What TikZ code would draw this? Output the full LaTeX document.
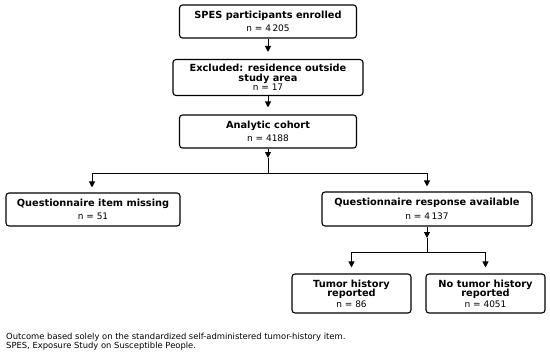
\documentclass[tikz,border=0pt]{standalone}
\usepackage{fontspec}
\setmainfont{DejaVu Sans}
\usetikzlibrary{arrows.meta}
\begin{document}
\begin{tikzpicture}[x=1pt,y=1pt,
  box/.style={draw, line width=1.1pt, rounded corners=3pt, align=center, inner sep=0pt, font=\fontsize{9.8}{9.6}\selectfont},
  arr/.style={line width=1pt, -{Triangle[length=6pt,width=6pt]}},
  ln/.style={line width=1pt}]
\useasboundingbox (0,0) rectangle (550,-356);
\newcommand{\ttl}[1]{\textbf{#1}}
\newcommand{\cnt}[1]{{\fontsize{9}{10}\selectfont #1}}
\node[box, minimum width=177pt, minimum height=33pt] (b1) at (268,-21.5) {\ttl{SPES participants enrolled}\\[4pt]\cnt{n = 4\,205}};
\node[box, minimum width=190pt, minimum height=36pt] (b2) at (268,-77.5) {\ttl{Excluded: residence outside}\\\ttl{study area}\\\cnt{n = 17}};
\node[box, minimum width=177pt, minimum height=33pt] (b3) at (268,-131.5) {\ttl{Analytic cohort}\\[4pt]\cnt{n = 4188}};
\node[box, minimum width=174pt, minimum height=33pt] (b4) at (93,-209.5) {\ttl{Questionnaire item missing}\\[4pt]\cnt{n = 51}};
\node[box, minimum width=210pt, minimum height=34pt] (b5) at (427,-209) {\ttl{Questionnaire response available}\\[4pt]\cnt{n = 4\,137}};
\node[box, minimum width=119pt, minimum height=39pt] (b6) at (351.5,-293.5) {\ttl{Tumor history}\\\ttl{reported}\\[1pt]\cnt{n = 86}};
\node[box, minimum width=119pt, minimum height=39pt] (b7) at (485.5,-293.5) {\ttl{No tumor history}\\\ttl{reported}\\[1pt]\cnt{n = 4051}};
\coordinate (j1) at (268,-158);
\coordinate (h1) at (268,-173);
\coordinate (hl) at (92,-173);
\coordinate (hr) at (427,-173);
\coordinate (j2) at (427,-238);
\coordinate (h2) at (427,-252);
\coordinate (gl) at (351.5,-252);
\coordinate (gr) at (485.5,-252);
\draw[arr, shorten >=7pt] (b1.south) -- (b2.north);
\draw[arr, shorten >=7pt] (b2.south) -- (b3.north);
\draw[arr] (b3.south) -- (j1);
\draw[ln] (j1) -- (h1);
\draw[ln] (hl) -- (hr);
\draw[arr, shorten >=5pt] (hl) -- (b4.north -| hl);
\draw[arr, shorten >=5pt] (hr) -- (b5.north);
\draw[arr] (b5.south) -- (j2);
\draw[ln] (j2) -- (h2);
\draw[ln] (gl) -- (gr);
\draw[arr, shorten >=6pt] (gl) -- (b6.north);
\draw[arr, shorten >=6pt] (gr) -- (b7.north);
\node[anchor=north west, align=left, inner sep=0pt, font=\fontsize{8.4}{9.4}\selectfont] (fn) at (6,-333) {Outcome based solely on the standardized self-administered tumor-history item.\\SPES, Exposure Study on Susceptible People.};
\end{tikzpicture}
\end{document}
